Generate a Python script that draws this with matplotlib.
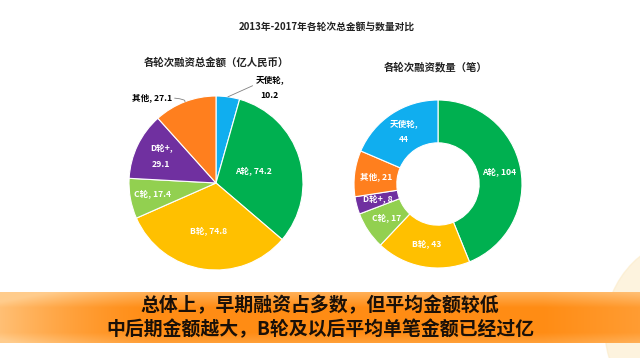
import numpy as np
import matplotlib
matplotlib.use("Agg")
import matplotlib.pyplot as plt

plt.rcParams['font.family'] = ['Noto Sans CJK SC', 'DejaVu Sans']

# 数据
amount_labels = ["天使轮", "A轮", "B轮", "C轮", "D轮+", "其他"]
amount_values = [10.2, 74.2, 74.8, 17.4, 29.1, 27.1]
amount_colors = ["#10AEEF", "#00B050", "#FFC000", "#92D050", "#7030A0", "#FF7F1E"]

count_labels = ["A轮", "B轮", "C轮", "D轮+", "其他", "天使轮"]
count_values = [104, 43, 17, 8, 21, 44]
count_colors = ["#00B050", "#FFC000", "#92D050", "#7030A0", "#FF7F1E", "#10AEEF"]

title = "2013年-2017年各轮次总金额与数量对比"
sub1 = "各轮次融资总金额（亿人民币）"
sub2 = "各轮次融资数量（笔）"
banner_lines = ["总体上，早期融资占多数，但平均金额较低",
                "中后期金额越大，B轮及以后平均单笔金额已经过亿"]

W, H = 640, 358
fig = plt.figure(figsize=(W / 100, H / 100), dpi=100)
fig.patch.set_facecolor("white")


def pie_axes(cx, cy, r):
    ax = fig.add_axes([(cx - r) / W, (H - cy - r) / H, 2 * r / W, 2 * r / H])
    return ax


def fix_axes(ax):
    # pie() 会重设坐标范围，这里改回来
    ax.set_xlim(-1, 1)
    ax.set_ylim(-1, 1)
    ax.set_aspect("equal")
    ax.axis("off")


def mid_dir(w):
    a = np.deg2rad((w.theta1 + w.theta2) / 2)
    return np.cos(a), np.sin(a)


LBL = 6.2

# 左边饼图
ax1 = pie_axes(216, 183, 87)
wedges1, _ = ax1.pie(amount_values, colors=amount_colors, startangle=90, counterclock=False,
                     radius=1, wedgeprops=dict(linewidth=0.8, edgecolor="white"))
fix_axes(ax1)
inner_r = {1: 0.45, 2: 0.56, 3: 0.74, 4: 0.70}
for i, w in enumerate(wedges1):
    dx, dy = mid_dir(w)
    lab, val = amount_labels[i], amount_values[i]
    if i in inner_r:
        r = inner_r[i]
        txt = f"{lab}, {val}" if i != 4 else f"{lab},\n{val}"
        ax1.text(dx * r, dy * r, txt, color="white", fontsize=LBL, fontweight="bold",
                 ha="center", va="center", linespacing=1.9)
    elif i == 0:
        ax1.annotate(f"{lab},\n{val}", xy=(dx * 1.0, dy * 1.0), xytext=(dx * 1.0 + 0.48, dy * 1.0 + 0.1),
                     fontsize=LBL, fontweight="bold", ha="center", va="center", linespacing=1.9,
                     arrowprops=dict(arrowstyle="-", color="#808080", lw=0.6,
                                     shrinkA=0, shrinkB=0, relpos=(0.0, 0.65)))
    else:
        ax1.annotate(f"{lab}, {val}", xy=(dx * 1.0, dy * 1.0), xytext=(dx * 1.0 - 0.15, dy * 1.0 + 0.05),
                     fontsize=LBL, fontweight="bold", ha="right", va="center",
                     arrowprops=dict(arrowstyle="-", color="#808080", lw=0.6,
                                     shrinkA=0, shrinkB=0, connectionstyle="angle3,angleA=0,angleB=60"))

# 右边环形图
ax2 = pie_axes(438, 184, 84)
wedges2, _ = ax2.pie(count_values, colors=count_colors, startangle=90, counterclock=False,
                     radius=1, wedgeprops=dict(width=0.51, linewidth=0.8, edgecolor="white"))
fix_axes(ax2)
for i, w in enumerate(wedges2):
    dx, dy = mid_dir(w)
    lab, val = count_labels[i], count_values[i]
    txt = f"{lab},\n{val}" if lab == "天使轮" else f"{lab}, {val}"
    ax2.text(dx * 0.74, dy * 0.74, txt, color="white", fontsize=LBL, fontweight="bold",
             ha="center", va="center", linespacing=1.9)

# 标题
fig.text(327 / W, 1 - 27 / H, title, ha="center", va="center", fontsize=7, fontweight="bold", color="#222222")
fig.text(216 / W, 1 - 62 / H, sub1, ha="center", va="center", fontsize=7.5, fontweight="bold", color="#222222")
fig.text(436 / W, 1 - 67 / H, sub2, ha="center", va="center", fontsize=7.5, fontweight="bold", color="#222222")

# 右下角装饰
deco = fig.add_axes([0, 0, 1, 1], zorder=-1)
deco.set_xlim(0, W)
deco.set_ylim(H, 0)
deco.axis("off")
circ = plt.Circle((700, 330), 95, color="#FCEBC8", alpha=0.6)
deco.add_patch(circ)

# 底部橙色横幅
bx = fig.add_axes([0, (H - 343) / H, 1, 51 / H], zorder=0)
xs = np.linspace(0, 1, 400)
ys = np.linspace(0, 1, 60)
X, Y = np.meshgrid(xs, ys)
base = np.array([1.0, 0.55, 0.08])
light = np.array([1.0, 0.80, 0.55])
hx = np.clip(1 - X / 0.25, 0, 1) ** 1.5 * 0.8 + np.clip((X - 0.85) / 0.15, 0, 1) * 0.25
vy = np.clip(1 - Y / 0.3, 0, 1) * 0.55 + np.clip((Y - 0.8) / 0.2, 0, 1) * 0.3
t = np.clip(hx + vy, 0, 1)[..., None]
img = base * (1 - t) + light * t
bx.imshow(img, aspect="auto", extent=[0, 1, 1, 0])
bx.set_xlim(0, 1)
bx.set_ylim(1, 0)
bx.axis("off")
bx.text(0.5, 0.27, banner_lines[0], ha="center", va="center", fontsize=13.6, fontweight="bold", color="#1A1008")
bx.text(0.5, 0.73, banner_lines[1], ha="center", va="center", fontsize=13.6, fontweight="bold", color="#1A1008")

fig.savefig("out.png", dpi=100)
